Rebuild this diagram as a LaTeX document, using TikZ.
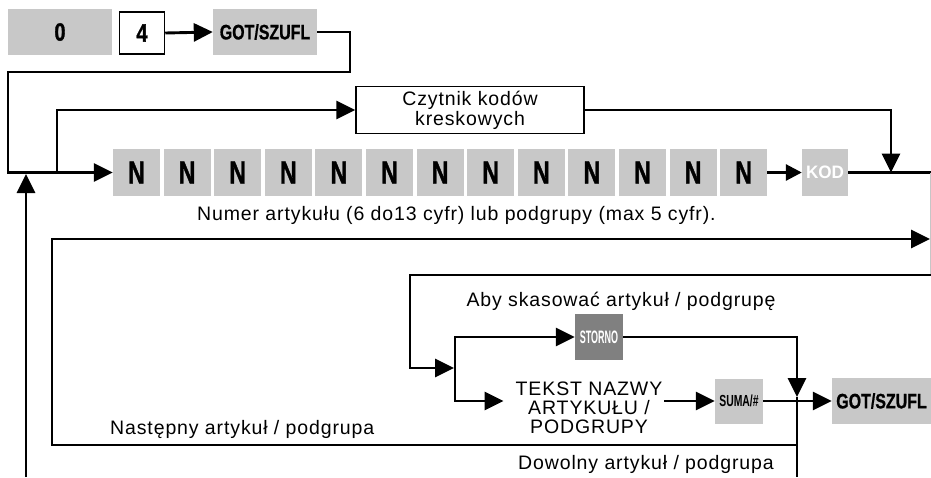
\documentclass[tikz,border=0pt]{standalone}
\usepackage{fontspec}
\setmainfont{Liberation Sans}[LetterSpace=4.5]
\newfontfamily\nfont{Liberation Sans}[FakeStretch=0.72,FakeBold=1.2]
\newfontfamily\dfont{Liberation Sans}[FakeStretch=0.8,FakeBold=1.2]
\newfontfamily\gfont{Liberation Sans}[FakeStretch=0.76,FakeBold=0.8]
\newfontfamily\kfont{Liberation Sans}[FakeStretch=0.95]
\newfontfamily\sfont{Liberation Sans}[FakeStretch=0.65]
\newfontfamily\tfont{Liberation Sans}[FakeStretch=0.5]
\usetikzlibrary{arrows.meta}
\definecolor{keygray}{RGB}{200,200,200}
\definecolor{darkkey}{RGB}{128,128,128}
\begin{document}
\begin{tikzpicture}[x=1pt,y=-1pt,
  conn/.style={line width=2.9pt},
  arr/.style={conn,-{Triangle[length=19pt,width=18pt]}},
  sarr/.style={conn,-{Triangle[length=16pt,width=16pt]}},
  key/.style={fill=keygray, inner sep=0pt, minimum width=#1, minimum height=46pt},
  key/.default=47pt,
  nkey/.style={key, minimum height=47pt, font=\nfont\bfseries\fontsize{32pt}{32pt}\selectfont},
  digit/.style={font=\dfont\bfseries\fontsize{25pt}{25pt}\selectfont},
  gkey/.style={key=#1, font=\gfont\bfseries\fontsize{21pt}{21pt}\selectfont},
  framebox/.style={draw, line width=1.5pt, fill=white, inner sep=0pt},
  txt/.style={font=\fontsize{19.5pt}{20pt}\selectfont, inner sep=0pt},
]
\useasboundingbox (0,0) rectangle (931,477);

% top row
\node[key=104pt, digit] (b0) at (60,32) {0};
\node[framebox, digit, minimum width=45pt, minimum height=42pt] (b4) at (142,33) {4};
\node[gkey=104pt] (got1) at (265,32) {GOT/SZUFL};
\draw[arr] (b4.east) -- (got1.west);

% barcode reader
\node[framebox, txt, align=center, minimum width=228pt, minimum height=47pt] (cz) at (470,110) {Czytnik kodów\\kreskowych};

% N keys
\foreach \i in {0,...,12} \node[nkey] (n\i) at ({136.5+\i*50.6},172.5) {N};
\node[key=46pt, minimum height=47pt, text=white, font=\kfont\bfseries\fontsize{18pt}{18pt}\selectfont] (kod) at (825,172.5) {KOD};
\node[txt, anchor=base west] (numer) at (197,220) {Numer artykułu (6 do13 cyfr) lub podgrupy (max 5 cyfr).};

% coordinates
\coordinate (j1) at (57,172.5);
\coordinate (kj) at (891,172.5);
\coordinate (re1) at (931,172.5);
\coordinate (lb) at (797,445);
\coordinate (ra) at (930,239);
\coordinate (r2) at (931,275);
\coordinate (bj) at (454,368);
\coordinate (bt) at (455,337);
\coordinate (bb) at (455,401);
\coordinate (dj) at (797,397);
\coordinate (db) at (797,477);
\coordinate (ub) at (26,477);
\coordinate (ut) at (26,174);

% connectors top
\draw[arr] (got1.east) -| (350,72) -| (8,172.5) -- (n0.west);
\draw[arr] (j1) |- (cz.west);
\draw[arr] (cz.east) -| (kj);
\draw[sarr] (n12.east) -- (kod.west);
\draw[conn] (kod.east) -- (re1);
\draw[gray!45, line width=1pt] (930.5,172.5) -- (930.5,275);

% outer loop
\draw[arr] (lb) -- (52,445) -- (52,239) -- (ra);

% lower part
\node[fill=darkkey, text=white, inner sep=0pt, minimum width=48pt, minimum height=46pt, font=\tfont\bfseries\fontsize{18pt}{18pt}\selectfont] (storno) at (599,337) {STORNO};
\node[txt, align=center, anchor=base, font=\fontsize{19.5pt}{19pt}\selectfont] (tekst) at (589,433) {TEKST NAZWY\\ARTYKUŁU /\\PODGRUPY};
\node[key=48pt, minimum height=45pt, font=\sfont\bfseries\fontsize{16pt}{16pt}\selectfont] (suma) at (739,401) {SUMA/\#};
\node[gkey=99pt] (got2) at (881.5,401) {GOT/SZUFL};

\draw[arr] (r2) -- (410,275) |- (bj);
\draw[arr] (bb) -- (bt) -- (storno.west);
\draw[arr] (bt) -- (bb) -- ([xshift=-12pt]tekst.west |- bb);
\draw[arr] ([xshift=2pt]tekst.east |- bb) -- (suma.west);
\draw[arr] (storno.east) -| (dj);
\draw[conn] (dj) -- (db);
\draw[arr] (suma.east) -- (got2.west);
\draw[arr] (ub) -- (ut);

% labels
\node[txt, anchor=base] (aby) at (621,306) {Aby skasować artykuł / podgrupę};
\node[txt, anchor=base west] (nast) at (110,434) {Następny artykuł / podgrupa};
\node[txt, anchor=base west] (dow) at (518,469) {Dowolny artykuł / podgrupa};
\end{tikzpicture}
\end{document}
